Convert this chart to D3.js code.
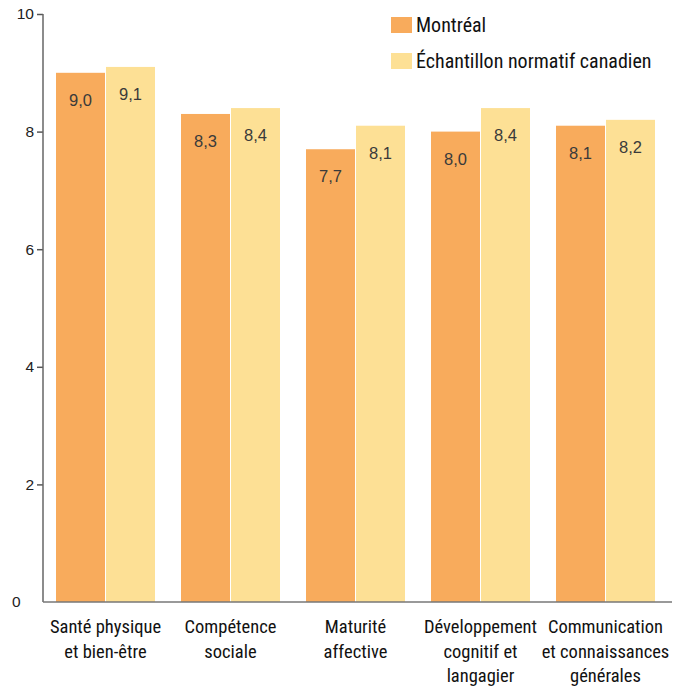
<!DOCTYPE html>
<html>
<head>
<meta charset="utf-8">
<script src="https://cdn.jsdelivr.net/npm/d3@7"></script>
<style>
  html, body { margin: 0; padding: 0; background: #fff; }
  svg { display: block; }
</style>
</head>
<body>
<svg id="chart" width="686" height="686"></svg>
<script>
// Domain scores by area of development
const categories = [
  ["Santé physique", "et bien-être"],
  ["Compétence", "sociale"],
  ["Maturité", "affective"],
  ["Développement", "cognitif et", "langagier"],
  ["Communication", "et connaissances", "générales"]
];
const seriesNames = ["Montréal", "Échantillon normatif canadien"];
const montreal = [9.0, 8.3, 7.7, 8.0, 8.1];
const canadien = [9.1, 8.4, 8.1, 8.4, 8.2];
const yTicks = [2, 4, 6, 8, 10];

const colors = ["#F8AB5C", "#FDE095"];
const condensed = "'Roboto Condensed', 'DejaVu Sans Condensed', sans-serif";
const plain = "Arial, 'Liberation Sans', sans-serif";

const svg = d3.select("#chart");

const x0 = d3.scaleBand()
  .domain(d3.range(categories.length))
  .range([43, 668])
  .paddingInner(0.208)
  .paddingOuter(0.104);

const x1 = d3.scaleBand()
  .domain(seriesNames)
  .range([0, x0.bandwidth()])
  .paddingInner(0.02);

const y = d3.scaleLinear().domain([0, 10]).range([602, 14]);

const rows = categories.map((c, i) => ({
  i, values: [montreal[i], canadien[i]]
}));

// Bars
const groups = svg.append("g").selectAll("g")
  .data(rows).join("g")
  .attr("transform", d => `translate(${x0(d.i)},0)`);

groups.selectAll("rect")
  .data(d => d.values.map((v, k) => ({ k, v })))
  .join("rect")
  .attr("x", d => x1(seriesNames[d.k]))
  .attr("width", x1.bandwidth())
  .attr("y", d => y(d.v))
  .attr("height", d => y(0) - y(d.v))
  .attr("fill", d => colors[d.k]);

// Value labels inside the bars
groups.selectAll("text.val")
  .data(d => d.values.map((v, k) => ({ k, v })))
  .join("text")
  .attr("class", "val")
  .attr("x", d => x1(seriesNames[d.k]) + x1.bandwidth() / 2)
  .attr("y", d => y(d.v) + 33)
  .attr("text-anchor", "middle")
  .attr("font-family", plain)
  .attr("font-size", 16.5)
  .attr("fill", "#3a3a3a")
  .text(d => d3.format(".1f")(d.v).replace(".", ","));

// Y axis
const yAxis = d3.axisLeft(y).tickValues(yTicks).tickSize(6).tickPadding(3).tickFormat(d3.format("d"));
const gy = svg.append("g").attr("transform", "translate(43,0)").call(yAxis);
gy.select(".domain").remove();
gy.selectAll(".tick line").attr("stroke", "#555").attr("stroke-width", 1.5);
gy.selectAll(".tick text")
  .attr("font-family", plain)
  .attr("font-size", 15.5)
  .attr("fill", "#222");

svg.append("line")
  .attr("x1", 43).attr("x2", 43)
  .attr("y1", y(10)).attr("y2", y(0))
  .attr("stroke", "#666").attr("stroke-width", 1.5);

// Baseline
svg.append("line")
  .attr("x1", 43).attr("x2", 672)
  .attr("y1", y(0)).attr("y2", y(0))
  .attr("stroke", "#777").attr("stroke-width", 1.5);

svg.append("text")
  .attr("x", 12).attr("y", y(0) + 5)
  .attr("font-family", plain)
  .attr("font-size", 15.5)
  .attr("fill", "#222")
  .text("0");

// Category labels
const cat = svg.append("g").selectAll("text")
  .data(rows).join("text")
  .attr("x", d => x0(d.i) + x0.bandwidth() / 2)
  .attr("y", 633)
  .attr("text-anchor", "middle")
  .attr("font-family", condensed)
  .attr("font-size", 18.5)
  .attr("fill", "#111");
cat.selectAll("tspan")
  .data(d => categories[d.i])
  .join("tspan")
  .attr("x", function () { return d3.select(this.parentNode).attr("x"); })
  .attr("dy", (d, j) => j === 0 ? 0 : 24.5)
  .text(d => d);

// Legend
const legend = svg.append("g").attr("transform", "translate(391,0)");
seriesNames.forEach((name, k) => {
  const cy = 25 + k * 36;
  legend.append("rect")
    .attr("x", 0).attr("y", cy - 8)
    .attr("width", 21).attr("height", 16)
    .attr("fill", colors[k]);
  legend.append("text")
    .attr("x", 25).attr("y", cy + 7)
    .attr("font-family", condensed)
    .attr("font-size", 20)
    .attr("fill", "#111")
    .text(name);
});
</script>
</body>
</html>
